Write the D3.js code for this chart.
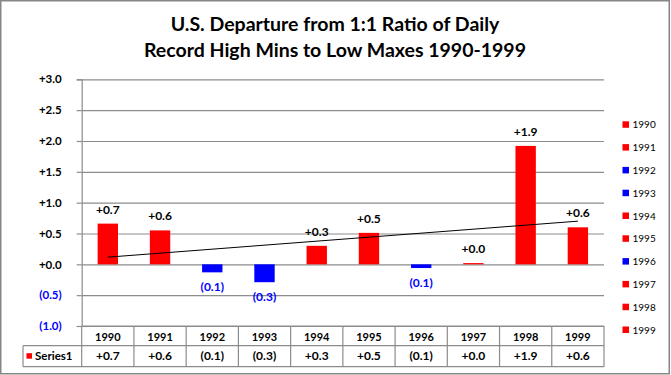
<!DOCTYPE html>
<html>
<head>
<meta charset="utf-8">
<script src="https://cdn.jsdelivr.net/npm/d3@7"></script>
<style>
  body { margin: 0; background: #fff; }
  svg { display: block; font-family: Lato, "Open Sans", sans-serif; }
</style>
</head>
<body>
<div id="chart"></div>
<script>
const width = 671;
const height = 375;

// data
const years = ['1990', '1991', '1992', '1993', '1994', '1995', '1996', '1997', '1998', '1999'];
const departures = [0.66, 0.55, -0.13, -0.29, 0.30, 0.51, -0.06, 0.02, 1.92, 0.60];
const yTicks = [-1.0, -0.5, 0, 0.5, 1.0, 1.5, 2.0, 2.5, 3.0];
const titleLines = ['U.S. Departure from 1:1 Ratio of Daily', 'Record High Mins to Low Maxes 1990-1999'];
const seriesName = 'Series1';

const red = '#ff0000';
const blue = '#0000ff';
const gridColor = '#8c8c8c';

const fmt = (v) => v >= 0 ? '+' + v.toFixed(1) : '(' + (-v).toFixed(1) + ')';

const plot = { left: 81.7, right: 604, top: 79.3, bottom: 326 };

const svg = d3.select('#chart')
    .append('svg')
    .attr('width', width)
    .attr('height', height);

// outer frame
svg.append('rect')
    .attr('x', 0.75).attr('y', 0.75)
    .attr('width', 668.5).attr('height', 373)
    .attr('fill', '#fff')
    .attr('stroke', '#868686')
    .attr('stroke-width', 1.5);

// title
svg.append('g')
    .selectAll('text')
    .data(titleLines)
    .join('text')
    .attr('x', 335)
    .attr('y', (d, i) => 30.5 + i * 26)
    .attr('text-anchor', 'middle')
    .attr('font-size', 19.5)
    .attr('font-weight', 'bold')
    .attr('fill', '#000')
    .text(d => d);

const xScale = d3.scaleBand()
    .domain(years)
    .range([plot.left, plot.right])
    .paddingInner(0.61)
    .paddingOuter(0.305);

const xCat = d3.scaleBand()
    .domain(years)
    .range([plot.left, plot.right]);

const yScale = d3.scaleLinear()
    .domain([-1, 3])
    .range([plot.bottom, plot.top]);

// gridlines
svg.append('g')
    .attr('class', 'gridlines')
    .attr('transform', `translate(${plot.left},0)`)
    .call(d3.axisLeft(yScale).tickValues(yTicks).tickFormat('').tickSize(-(plot.right - plot.left)))
    .call(g => g.select('.domain').remove())
    .call(g => g.selectAll('line').attr('stroke', gridColor).attr('stroke-width', 1.2));

// y axis
const yAxis = svg.append('g')
    .attr('transform', `translate(${plot.left},0)`)
    .call(d3.axisLeft(yScale).tickValues(yTicks).tickFormat(fmt).tickSize(5).tickPadding(15));
yAxis.select('.domain').attr('stroke', gridColor).attr('stroke-width', 1.2);
yAxis.selectAll('line').attr('stroke', gridColor).attr('stroke-width', 1.2);
yAxis.selectAll('text')
    .attr('font-family', 'Lato, sans-serif')
    .attr('font-size', 11.5)
    .attr('font-weight', 'bold')
    .attr('fill', d => d < 0 ? blue : '#000');

// bars
svg.append('g')
    .selectAll('rect')
    .data(departures)
    .join('rect')
    .attr('x', (d, i) => xScale(years[i]))
    .attr('width', xScale.bandwidth())
    .attr('y', d => yScale(Math.max(0, d)))
    .attr('height', d => Math.abs(yScale(d) - yScale(0)))
    .attr('fill', d => d >= 0 ? red : blue);

// trend line (least squares over the series)
const xs = departures.map((d, i) => i);
const mx = d3.mean(xs), my = d3.mean(departures);
const slope = d3.sum(xs, (x, i) => (x - mx) * (departures[i] - my)) / d3.sum(xs, x => (x - mx) ** 2);
const icpt = my - slope * mx;
const center = (y) => xCat(y) + xCat.bandwidth() / 2;
svg.append('line')
    .attr('x1', center(years[0]))
    .attr('y1', yScale(icpt))
    .attr('x2', center(years[years.length - 1]))
    .attr('y2', yScale(icpt + slope * (years.length - 1)))
    .attr('stroke', '#000')
    .attr('stroke-width', 1);

// data labels
svg.append('g')
    .selectAll('text')
    .data(departures)
    .join('text')
    .attr('x', (d, i) => center(years[i]))
    .attr('y', d => d >= 0 ? yScale(d) - 10 : yScale(d) + 19)
    .attr('text-anchor', 'middle')
    .attr('font-size', 12)
    .attr('font-weight', 'bold')
    .attr('fill', d => d >= 0 ? '#000' : blue)
    .text(fmt);

// legend on the right
const legend = svg.append('g')
    .selectAll('g')
    .data(years)
    .join('g')
    .attr('transform', (d, i) => `translate(622.5,${124.3 + i * 22.8})`);
legend.append('rect')
    .attr('x', 0).attr('y', -3)
    .attr('width', 6.5).attr('height', 6.5)
    .attr('fill', (d, i) => departures[i] >= 0 ? red : blue);
legend.append('text')
    .attr('x', 10)
    .attr('y', 4)
    .attr('font-size', 10)
    .attr('fill', '#000')
    .text(d => d);

// data table
const table = { row1: plot.bottom, row2: 345.7, bottom: 366.7, labelLeft: 23 };
const tbl = svg.append('g').attr('stroke', gridColor).attr('stroke-width', 1.2);
tbl.append('line').attr('x1', plot.left).attr('x2', plot.right).attr('y1', table.row1).attr('y2', table.row1);
tbl.append('line').attr('x1', table.labelLeft).attr('x2', plot.right).attr('y1', table.row2).attr('y2', table.row2);
tbl.append('line').attr('x1', table.labelLeft).attr('x2', plot.right).attr('y1', table.bottom).attr('y2', table.bottom);
tbl.append('line').attr('x1', table.labelLeft).attr('x2', table.labelLeft).attr('y1', table.row2).attr('y2', table.bottom);
tbl.selectAll('line.v')
    .data(years.concat(['end']))
    .join('line')
    .attr('class', 'v')
    .attr('x1', (d, i) => plot.left + i * xCat.step())
    .attr('x2', (d, i) => plot.left + i * xCat.step())
    .attr('y1', table.row1)
    .attr('y2', table.bottom);

svg.append('g')
    .selectAll('text')
    .data(years)
    .join('text')
    .attr('x', d => center(d))
    .attr('y', table.row1 + 14.5)
    .attr('text-anchor', 'middle')
    .attr('font-size', 11)
    .attr('font-weight', 'bold')
    .text(d => d);

svg.append('g')
    .selectAll('text')
    .data(departures)
    .join('text')
    .attr('x', (d, i) => center(years[i]))
    .attr('y', table.row2 + 14.5)
    .attr('text-anchor', 'middle')
    .attr('font-size', 12)
    .attr('font-weight', 'bold')
    .text(fmt);

svg.append('rect')
    .attr('x', 26.5).attr('y', 353.2)
    .attr('width', 5.5).attr('height', 5.5)
    .attr('fill', red);
svg.append('text')
    .attr('x', 35)
    .attr('y', table.row2 + 14.5)
    .attr('font-size', 11.5)
    .attr('font-weight', 'bold')
    .text(seriesName);
</script>
</body>
</html>
